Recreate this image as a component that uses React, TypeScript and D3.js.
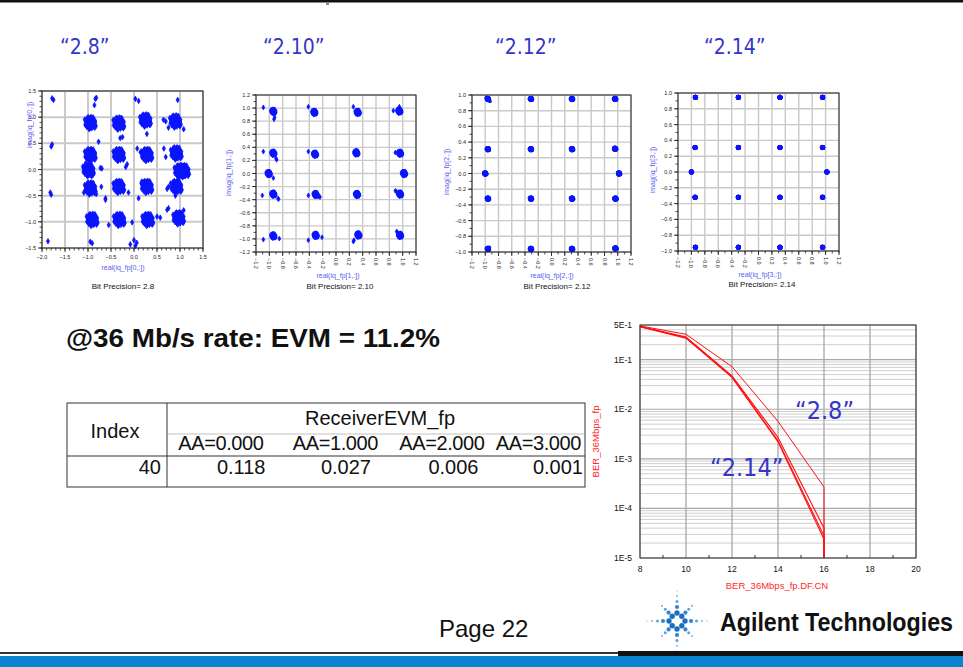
import React from 'react';
import * as d3 from 'd3';

// ---------- DATA ----------
const PRECISION_LABELS = ['“2.8”', '“2.10”', '“2.12”', '“2.14”'];
const BIT_PRECISIONS = ['2.8', '2.10', '2.12', '2.14'];

// hand-typed unit-disc offsets used to draw each constellation cluster as a blob
const CLUSTER_OFFSETS: [number, number][] = [
  [0, 0], [0.3, 0.1], [-0.3, 0.15], [0.1, 0.35], [-0.1, -0.3], [0.35, -0.25], [-0.35, -0.2],
  [0.6, 0.2], [-0.6, 0.1], [0.2, 0.6], [-0.2, 0.6], [0.55, -0.5], [-0.5, -0.55], [0.1, -0.65],
  [0.45, 0.5], [-0.45, 0.45], [0.85, 0.0], [-0.85, -0.1], [0.0, 0.9], [-0.05, -0.9],
  [0.7, 0.55], [-0.7, 0.5], [0.65, -0.65], [-0.65, -0.7], [0.9, -0.3], [-0.9, 0.3],
  [0.35, 0.85], [-0.35, -0.85], [0.3, -0.9], [-0.3, 0.88], [0.95, 0.3], [-0.95, -0.35],
  [0.8, -0.1], [-0.15, 0.15], [0.15, -0.15], [0.5, 0.05], [-0.55, -0.25], [0.25, 0.4],
  [-0.25, -0.55], [0.4, -0.45], [-0.75, 0.25], [0.7, 0.3], [0.15, 1.05], [-0.2, -1.1],
  [1.05, -0.55], [-0.6, 0.85], [0.55, 0.95], [-1.05, 0.6], [0.85, -0.85], [-0.4, 1.0],
];

const CENTERS_P1: [number, number][] = [
  [-0.95, 0.89], [-0.33, 0.88], [0.25, 0.94], [0.9, 0.92],
  [-0.95, 0.28], [-0.33, 0.28], [0.28, 0.28], [0.92, 0.31],
  [-0.99, -0.01], [1.0, -0.03], [1.08, -0.03],
  [-0.95, -0.36], [-0.33, -0.33], [0.28, -0.33], [0.92, -0.33],
  [-0.91, -0.96], [-0.32, -0.96], [0.3, -0.96], [0.97, -0.93],
];
const OUTLIERS_P1: [number, number][] = [
  [-1.78, 1.36], [-1.75, 1.33], [-0.84, 1.35], [-0.86, 1.23], [-0.82, 1.37], [0.03, 1.35], [0.1, 1.31],
  [0.95, 1.33], [-1.78, 0.48], [-1.8, 0.44], [-0.77, 0.53], [-0.3, 0.6], [-0.25, 0.62], [0.28, 0.68],
  [0.64, 0.95], [0.69, 0.92], [0.75, 0.8], [1.08, 0.77], [0.07, 0.4], [0.14, 0.33], [0.65, 0.4],
  [0.69, 0.24], [-0.15, 0.1], [-0.18, 0.05], [-0.73, 0.03], [-0.7, 0.02], [-0.71, -0.33],
  [-1.09, -0.44], [-0.82, -0.47], [-0.62, -0.55], [-0.62, -0.58], [-0.12, -0.44], [-1.82, -0.44],
  [-1.8, -0.48], [0.1, -0.55], [0.17, -0.23], [0.21, -0.26], [0.72, -0.37], [0.75, -0.33],
  [0.75, -0.74], [0.72, -0.77], [0.5, -0.9], [0.57, -0.92], [1.08, -0.78], [-0.55, -1.06],
  [-0.04, -1.01], [-1.87, -1.37], [-0.95, -1.38], [-0.91, -1.41], [0.0, -1.35], [-0.08, -1.43],
  [0.03, -1.46], [0.06, -1.4], [-1.05, 0.12], [-0.92, -0.13], [0.9, -0.5], [0.88, 0.42],
];

const CENTERS_P2: [number, number][] = [
  [-0.94, 0.95], [-0.325, 0.935], [0.325, 0.935], [0.95, 0.955],
  [-0.94, 0.31], [-0.315, 0.295], [0.305, 0.315], [0.96, 0.31],
  [-1.01, 0.0], [1.02, 0.0],
  [-0.94, -0.315], [-0.305, -0.32], [0.315, -0.32], [0.96, -0.315],
  [-0.94, -0.955], [-0.305, -0.945], [0.335, -0.94], [0.96, -0.945],
];
const OUTLIERS_P2: [number, number][] = [
  [-1.09, 1.01], [-0.92, 0.86], [-0.93, 0.83], [-0.415, 1.02], [0.26, 1.02], [0.86, 0.96],
  [0.95, 1.02], [0.94, 0.99], [-1.09, 0.335], [-0.9, 0.23], [-0.89, 0.21], [-0.415, 0.335],
  [0.89, 0.32], [-1.025, 0.015], [-0.94, -0.07], [-1.105, -0.335], [-0.87, -0.385],
  [-0.86, -0.39], [-0.415, -0.335], [-0.24, -0.36], [-0.26, -0.35], [0.89, -0.265],
  [0.91, -0.28], [-1.09, -1.01], [-0.85, -0.995], [-0.415, -1.02], [-0.21, -0.975],
  [0.26, -1.04], [0.27, -1.02], [0.91, -0.885], [0.92, -0.9],
];

const CENTERS_P3: [number, number][] = [
  [-0.96, 0.95], [-0.31, 0.95], [0.31, 0.95], [0.96, 0.95],
  [-0.96, 0.31], [-0.31, 0.31], [0.31, 0.31], [0.96, 0.315],
  [-1.0, 0.0], [1.02, 0.0],
  [-0.96, -0.32], [-0.31, -0.32], [0.31, -0.32], [0.965, -0.32],
  [-0.96, -0.96], [-0.31, -0.96], [0.31, -0.96], [0.965, -0.955],
];
const OUTLIERS_P3: [number, number][] = [[-0.93, 0.92], [-0.98, 0.97], [-0.94, -0.94], [0.95, 0.32], [-0.94, -0.33]];

const CENTERS_P4: [number, number][] = [
  [-0.94, 0.945], [-0.3, 0.945], [0.32, 0.945], [0.955, 0.945],
  [-0.945, 0.31], [-0.3, 0.31], [0.32, 0.31], [0.955, 0.31],
  [-1.0, 0.0], [1.02, 0.0],
  [-0.945, -0.32], [-0.3, -0.32], [0.32, -0.32], [0.955, -0.32],
  [-0.94, -0.953], [-0.3, -0.953], [0.32, -0.953], [0.955, -0.953],
];

const TICKS_P1_X = [-2.0, -1.5, -1.0, -0.5, 0.0, 0.5, 1.0, 1.5];
const TICKS_P1_Y = [-1.5, -1.0, -0.5, 0.0, 0.5, 1.0, 1.5];
const TICKS_12 = [-1.2, -1.0, -0.8, -0.6, -0.4, -0.2, 0.0, 0.2, 0.4, 0.6, 0.8, 1.0, 1.2];
const TICKS_10 = [-1.0, -0.8, -0.6, -0.4, -0.2, 0.0, 0.2, 0.4, 0.6, 0.8, 1.0];

// BER chart
const BER_CN = [8, 10, 12, 14, 16];
const BER_AA0 = [0.48, 0.325, 0.072, 0.0057, 2.7e-4];
const BER_AA1 = [0.47, 0.285, 0.047, 0.0027, 4.0e-5];
const BER_AA2 = [0.46, 0.277, 0.045, 0.0023, 2.8e-5];
const BER_AA3 = [0.46, 0.272, 0.044, 0.0022, 2.4e-5];
const BER_SERIES = [BER_AA0, BER_AA1, BER_AA2, BER_AA3];
const BER_X_TICKS = [8, 10, 12, 14, 16, 18, 20];
const BER_Y_TICKS = [0.5, 0.1, 0.01, 1e-3, 1e-4, 1e-5];
const BER_Y_LABELS = ['5E-1', '1E-1', '1E-2', '1E-3', '1E-4', '1E-5'];

// table
const TABLE_INDEX = [40];
const TABLE_COLS = ['AA=0.000', 'AA=1.000', 'AA=2.000', 'AA=3.000'];
const TABLE_EVM = [0.118, 0.027, 0.006, 0.001];

// logo
const LOGO_ANGLES = [0, 45, 90, 135, 180, 225, 270, 315];
const LOGO_DOTS = [
  { d: 8, r: 2.7, c: '#1c6fbf' },
  { d: 14, r: 2.1, c: '#2f86cf' },
  { d: 19.5, r: 1.5, c: '#5fa3da' },
  { d: 25, r: 1.1, c: '#8dbde4' },
  { d: 30, r: 0.8, c: '#b2d2ec' },
];

// ---------- COMPONENTS ----------
const FONT = 'Liberation Sans, Arial, sans-serif';
const f1 = d3.format('.1f');

type CCfg = {
  x0: number; x1: number; y0: number; y1: number;
  xDomain: [number, number]; yDomain: [number, number];
  xTicks: number[]; yTicks: number[]; minorStep: number;
  rotated: boolean; idx: number; gridW: number;
  centers: [number, number][]; outliers: [number, number][];
  sx: number; sy: number; marker: 'diamond' | 'dot'; msize: number;
  xLabelX: number; xLabelY: number; bpX: number; bpY: number; yLabelX: number; yLabelY: number;
};

function Constellation({ c }: { c: CCfg }) {
  const x = d3.scaleLinear().domain(c.xDomain).range([c.x0, c.x1]);
  const y = d3.scaleLinear().domain(c.yDomain).range([c.y1, c.y0]);
  const minorX = d3.range(c.xDomain[0], c.xDomain[1] + 1e-9, c.minorStep);
  const minorY = d3.range(c.yDomain[0], c.yDomain[1] + 1e-9, c.minorStep);
  const pts: [number, number][] = [];
  c.centers.forEach(([cx, cy]) =>
    CLUSTER_OFFSETS.forEach(([ox, oy]) => pts.push([cx + ox * c.sx, cy + oy * c.sy]))
  );
  c.outliers.forEach((p) => pts.push(p));
  const sym = d3.symbol().type(d3.symbolDiamond).size(c.msize);
  const dPath = sym() as string;
  return (
    <g>
      {c.xTicks.map((t) => (
        <line key={'gx' + t} x1={x(t)} x2={x(t)} y1={c.y0} y2={c.y1} stroke="#c9c9c9" strokeWidth={c.gridW} />
      ))}
      {c.yTicks.map((t) => (
        <line key={'gy' + t} x1={c.x0} x2={c.x1} y1={y(t)} y2={y(t)} stroke="#c9c9c9" strokeWidth={c.gridW} />
      ))}
      {pts.map(([px, py], i) =>
        c.marker === 'dot' ? (
          <circle key={i} cx={x(px)} cy={y(py)} r={c.msize} fill="#0a14ff" />
        ) : (
          <path
            key={i}
            d={dPath}
            transform={`translate(${x(px)},${y(py)})`}
            fill="#0a14ff"
            stroke="#0a14ff"
            strokeWidth={0.7}
          />
        )
      )}
      <rect x={c.x0} y={c.y0} width={c.x1 - c.x0} height={c.y1 - c.y0} fill="none" stroke="#222" strokeWidth={1} />
      {minorX.map((t, i) => (
        <line key={'mx' + i} x1={x(t)} x2={x(t)} y1={c.y1} y2={c.y1 + 2.5} stroke="#222" strokeWidth={0.8} />
      ))}
      {minorY.map((t, i) => (
        <line key={'my' + i} x1={c.x0 - 2.5} x2={c.x0} y1={y(t)} y2={y(t)} stroke="#222" strokeWidth={0.8} />
      ))}
      {c.xTicks.map((t) => (
        <line key={'tx' + t} x1={x(t)} x2={x(t)} y1={c.y1} y2={c.y1 + 4} stroke="#222" strokeWidth={0.9} />
      ))}
      {c.yTicks.map((t) => (
        <line key={'ty' + t} x1={c.x0 - 4} x2={c.x0} y1={y(t)} y2={y(t)} stroke="#222" strokeWidth={0.9} />
      ))}
      {c.yTicks.map((t) => (
        <text key={'ly' + t} x={c.x0 - 6} y={y(t) + 2} fontSize={5.5} textAnchor="end" fontFamily={FONT} fill="#222">
          {f1(t)}
        </text>
      ))}
      {c.xTicks.map((t) =>
        c.rotated ? (
          <text
            key={'lx' + t}
            transform={`translate(${x(t) - 2},${c.y1 + 6}) rotate(90)`}
            fontSize={5.5}
            textAnchor="start"
            fontFamily={FONT}
            fill="#222"
          >
            {f1(t)}
          </text>
        ) : (
          <text key={'lx' + t} x={x(t)} y={c.y1 + 11} fontSize={5.5} textAnchor="middle" fontFamily={FONT} fill="#222">
            {f1(t)}
          </text>
        )
      )}
      <text x={c.xLabelX} y={c.xLabelY} fontSize={7} textAnchor="middle" fontFamily={FONT} fill="#5c5cf0">
        {`real(iq_fp[${c.idx},:])`}
      </text>
      <text
        transform={`translate(${c.yLabelX},${c.yLabelY}) rotate(-90)`}
        fontSize={7}
        textAnchor="middle"
        fontFamily={FONT}
        fill="#5c5cf0"
      >
        {`imag(iq_fp[${c.idx},:])`}
      </text>
      <text x={c.bpX} y={c.bpY} fontSize={8} textAnchor="middle" fontFamily={FONT} fill="#111">
        {`Bit Precision= ${BIT_PRECISIONS[c.idx]}`}
      </text>
    </g>
  );
}

function BerChart() {
  const x0 = 640, x1 = 916, y0 = 325, y1 = 558;
  const x = d3.scaleLinear().domain([8, 20]).range([x0, x1]);
  const y = d3.scaleLog().domain([1e-5, 0.5]).range([y1, y0]);
  const minorH: number[] = [];
  [1e-5, 1e-4, 1e-3, 1e-2, 1e-1].forEach((dec) => {
    [2, 3, 4, 5, 6, 7, 8, 9].forEach((k) => {
      const v = k * dec;
      if (v < 0.5) minorH.push(v);
    });
  });
  const line = d3
    .line<[number, number]>()
    .x((d) => x(d[0]))
    .y((d) => y(d[1]));
  const minorTicks = d3.range(9, 20, 2);
  return (
    <g>
      {minorH.map((v, i) => (
        <line key={'mh' + i} x1={x0} x2={x1} y1={y(v)} y2={y(v)} stroke="#cfcfcf" strokeWidth={1} />
      ))}
      {BER_Y_TICKS.map((v) => (
        <line key={'gh' + v} x1={x0} x2={x1} y1={y(v)} y2={y(v)} stroke="#a8a8a8" strokeWidth={1.2} />
      ))}
      {BER_X_TICKS.map((v) => (
        <line key={'gv' + v} x1={x(v)} x2={x(v)} y1={y0} y2={y1} stroke="#a8a8a8" strokeWidth={1.3} />
      ))}
      {BER_SERIES.map((s, si) => {
        const pts: [number, number][] = BER_CN.map((cn, i) => [cn, s[i]]);
        pts.push([BER_CN[BER_CN.length - 1], 1e-5]);
        return <path key={si} d={line(pts) as string} fill="none" stroke="#ff1010" strokeWidth={si === 0 ? 1 : 1.1} />;
      })}
      <rect x={x0} y={y0} width={x1 - x0} height={y1 - y0} fill="none" stroke="#333" strokeWidth={1} />
      {minorTicks.map((v) => (
        <line key={'mt' + v} x1={x(v)} x2={x(v)} y1={y1} y2={y1 - 3} stroke="#333" strokeWidth={1} />
      ))}
      {BER_X_TICKS.map((v) => (
        <text key={'xl' + v} x={x(v)} y={y1 + 14} fontSize={8.5} textAnchor="middle" fontFamily={FONT} fill="#111">
          {v}
        </text>
      ))}
      {BER_Y_TICKS.map((v, i) => (
        <text key={'yl' + v} x={x0 - 8} y={y(v) + 3} fontSize={8.5} textAnchor="end" fontFamily={FONT} fill="#111">
          {BER_Y_LABELS[i]}
        </text>
      ))}
      <text x={(x0 + x1) / 2 - 1} y={y1 + 31} fontSize={9.5} textAnchor="middle" fontFamily={FONT} fill="#ff2a2a">
        BER_36Mbps_fp.DF.CN
      </text>
      <text
        transform={`translate(${x0 - 41},${(y0 + y1) / 2}) rotate(-90)`}
        fontSize={9.5}
        textAnchor="middle"
        fontFamily={FONT}
        fill="#ff2a2a"
      >
        BER_36Mbps_fp
      </text>
      <text x={795} y={419} fontSize={25} fontFamily="DejaVu Sans Condensed, Liberation Sans, sans-serif" fill="#3535c8">
        {PRECISION_LABELS[0]}
      </text>
      <text x={710} y={476} fontSize={25} fontFamily="DejaVu Sans Condensed, Liberation Sans, sans-serif" fill="#3535c8">
        {PRECISION_LABELS[3]}
      </text>
    </g>
  );
}

function EvmTable() {
  const left = 67, right = 585, top = 403, mid = 434, hb = 456, bottom = 487, div = 167;
  const colX = d3.scaleBand<string>().domain(TABLE_COLS).range([div, right]);
  // right-edge nudges so headers and values sit like the source table
  const headNudge = [-8, 2, 4, -4];
  const valNudge = [-6, -5, -2, -2];
  return (
    <g fontFamily={FONT} fill="#111">
      <rect x={left} y={top} width={right - left} height={bottom - top} fill="none" stroke="#333" strokeWidth={1} />
      <line x1={div} x2={div} y1={top} y2={bottom} stroke="#333" strokeWidth={1} />
      <line x1={div} x2={right} y1={mid} y2={mid} stroke="#999" strokeWidth={0.6} />
      <line x1={left} x2={right} y1={hb} y2={hb} stroke="#333" strokeWidth={1} />
      <text x={(left + div) / 2 - 2} y={438} fontSize={20} textAnchor="middle">Index</text>
      <text x={(div + right) / 2 + 4} y={425} fontSize={20} textAnchor="middle">ReceiverEVM_fp</text>
      {TABLE_COLS.map((c, i) => (
        <text key={c} x={(colX(c) as number) + colX.bandwidth() + headNudge[i]} y={450} fontSize={20} textAnchor="end" letterSpacing={-0.4}>
          {c}
        </text>
      ))}
      {TABLE_INDEX.map((v) => (
        <text key={v} x={div - 6} y={474} fontSize={20} textAnchor="end">{v}</text>
      ))}
      {TABLE_COLS.map((c, i) => (
        <text key={'v' + c} x={(colX(c) as number) + colX.bandwidth() + valNudge[i]} y={474} fontSize={20} textAnchor="end">
          {d3.format('.3f')(TABLE_EVM[i])}
        </text>
      ))}
    </g>
  );
}

function Logo() {
  const cx = 677, cy = 621;
  return (
    <g>
      {LOGO_ANGLES.map((a) =>
        LOGO_DOTS.map((dd, i) => {
          const diag = a % 90 !== 0;
          const k = diag ? 0.85 : 1;
          if (diag && i === 4) return null;
          const rad = (a * Math.PI) / 180;
          return (
            <circle key={a + '-' + i} cx={cx + Math.cos(rad) * dd.d * k} cy={cy + Math.sin(rad) * dd.d * k} r={dd.r} fill={dd.c} />
          );
        })
      )}
    </g>
  );
}

const CONFIGS: CCfg[] = [
  {
    x0: 42, x1: 203, y0: 91, y1: 248, xDomain: [-2, 1.5], yDomain: [-1.5, 1.5],
    xTicks: TICKS_P1_X, yTicks: TICKS_P1_Y, minorStep: 0.1, rotated: false, idx: 0, gridW: 2,
    centers: CENTERS_P1, outliers: OUTLIERS_P1, sx: 0.115, sy: 0.11, marker: 'diamond', msize: 9,
    xLabelX: 123, xLabelY: 270, bpX: 123, bpY: 289, yLabelX: 32, yLabelY: 125,
  },
  {
    x0: 256, x1: 416, y0: 95, y1: 252, xDomain: [-1.2, 1.2], yDomain: [-1.2, 1.2],
    xTicks: TICKS_12, yTicks: TICKS_12, minorStep: 0.1, rotated: true, idx: 1, gridW: 1.4,
    centers: CENTERS_P2, outliers: OUTLIERS_P2, sx: 0.035, sy: 0.03, marker: 'diamond', msize: 7,
    xLabelX: 338, xLabelY: 278, bpX: 340, bpY: 289, yLabelX: 231, yLabelY: 173,
  },
  {
    x0: 472, x1: 631, y0: 95, y1: 252, xDomain: [-1.2, 1.2], yDomain: [-1.0, 1.0],
    xTicks: TICKS_12, yTicks: TICKS_10, minorStep: 0.1, rotated: true, idx: 2, gridW: 1.4,
    centers: CENTERS_P3, outliers: OUTLIERS_P3, sx: 0.02, sy: 0.016, marker: 'dot', msize: 1.9,
    xLabelX: 552, xLabelY: 278, bpX: 557, bpY: 289, yLabelX: 449, yLabelY: 172,
  },
  {
    x0: 678, x1: 839, y0: 93, y1: 251, xDomain: [-1.2, 1.2], yDomain: [-1.0, 1.0],
    xTicks: TICKS_12, yTicks: TICKS_10, minorStep: 0.1, rotated: true, idx: 3, gridW: 1.4,
    centers: CENTERS_P4, outliers: [], sx: 0.01, sy: 0.008, marker: 'dot', msize: 2,
    xLabelX: 760, xLabelY: 277, bpX: 762, bpY: 287, yLabelX: 655, yLabelY: 170,
  },
];

const TITLE_X = [60, 263, 495, 704];

export default function App() {
  return (
    <svg
      width={963}
      height={667}
      viewBox="0 0 963 667"
      style={{ position: 'absolute', left: 0, top: 0, background: '#fff' }}
    >
      <rect x={0} y={0} width={963} height={667} fill="#fff" />
      <rect x={0} y={0} width={963} height={2.5} fill="#111" />
      <rect x={326} y={2} width={3} height={3} fill="#888" />
      {PRECISION_LABELS.map((t, i) => (
        <text key={t} x={TITLE_X[i]} y={54} fontSize={21} fontFamily="DejaVu Sans Condensed, Liberation Sans, sans-serif" fill="#3535c8">
          {t}
        </text>
      ))}
      {CONFIGS.map((c) => (
        <Constellation key={c.idx} c={c} />
      ))}
      <text x={66} y={347} fontSize={26} fontWeight="bold" fontFamily={FONT} fill="#111" textLength={374} lengthAdjust="spacingAndGlyphs">
        @36 Mb/s rate: EVM = 11.2%
      </text>
      <EvmTable />
      <BerChart />
      <text x={439} y={637} fontSize={24} fontFamily={FONT} fill="#111">Page 22</text>
      <Logo />
      <text
        transform="translate(720,631) scale(1,1.2)"
        fontSize={22}
        fontWeight="bold"
        fontFamily={FONT}
        fill="#111"
        textLength={233}
        lengthAdjust="spacingAndGlyphs"
      >
        Agilent Technologies
      </text>
      <rect x={0} y={652} width={618} height={2} fill="#333" />
      <rect x={618} y={651} width={345} height={5} fill="#111" />
      <rect x={0} y={656} width={963} height={11} fill="#0a84d0" />
    </svg>
  );
}
